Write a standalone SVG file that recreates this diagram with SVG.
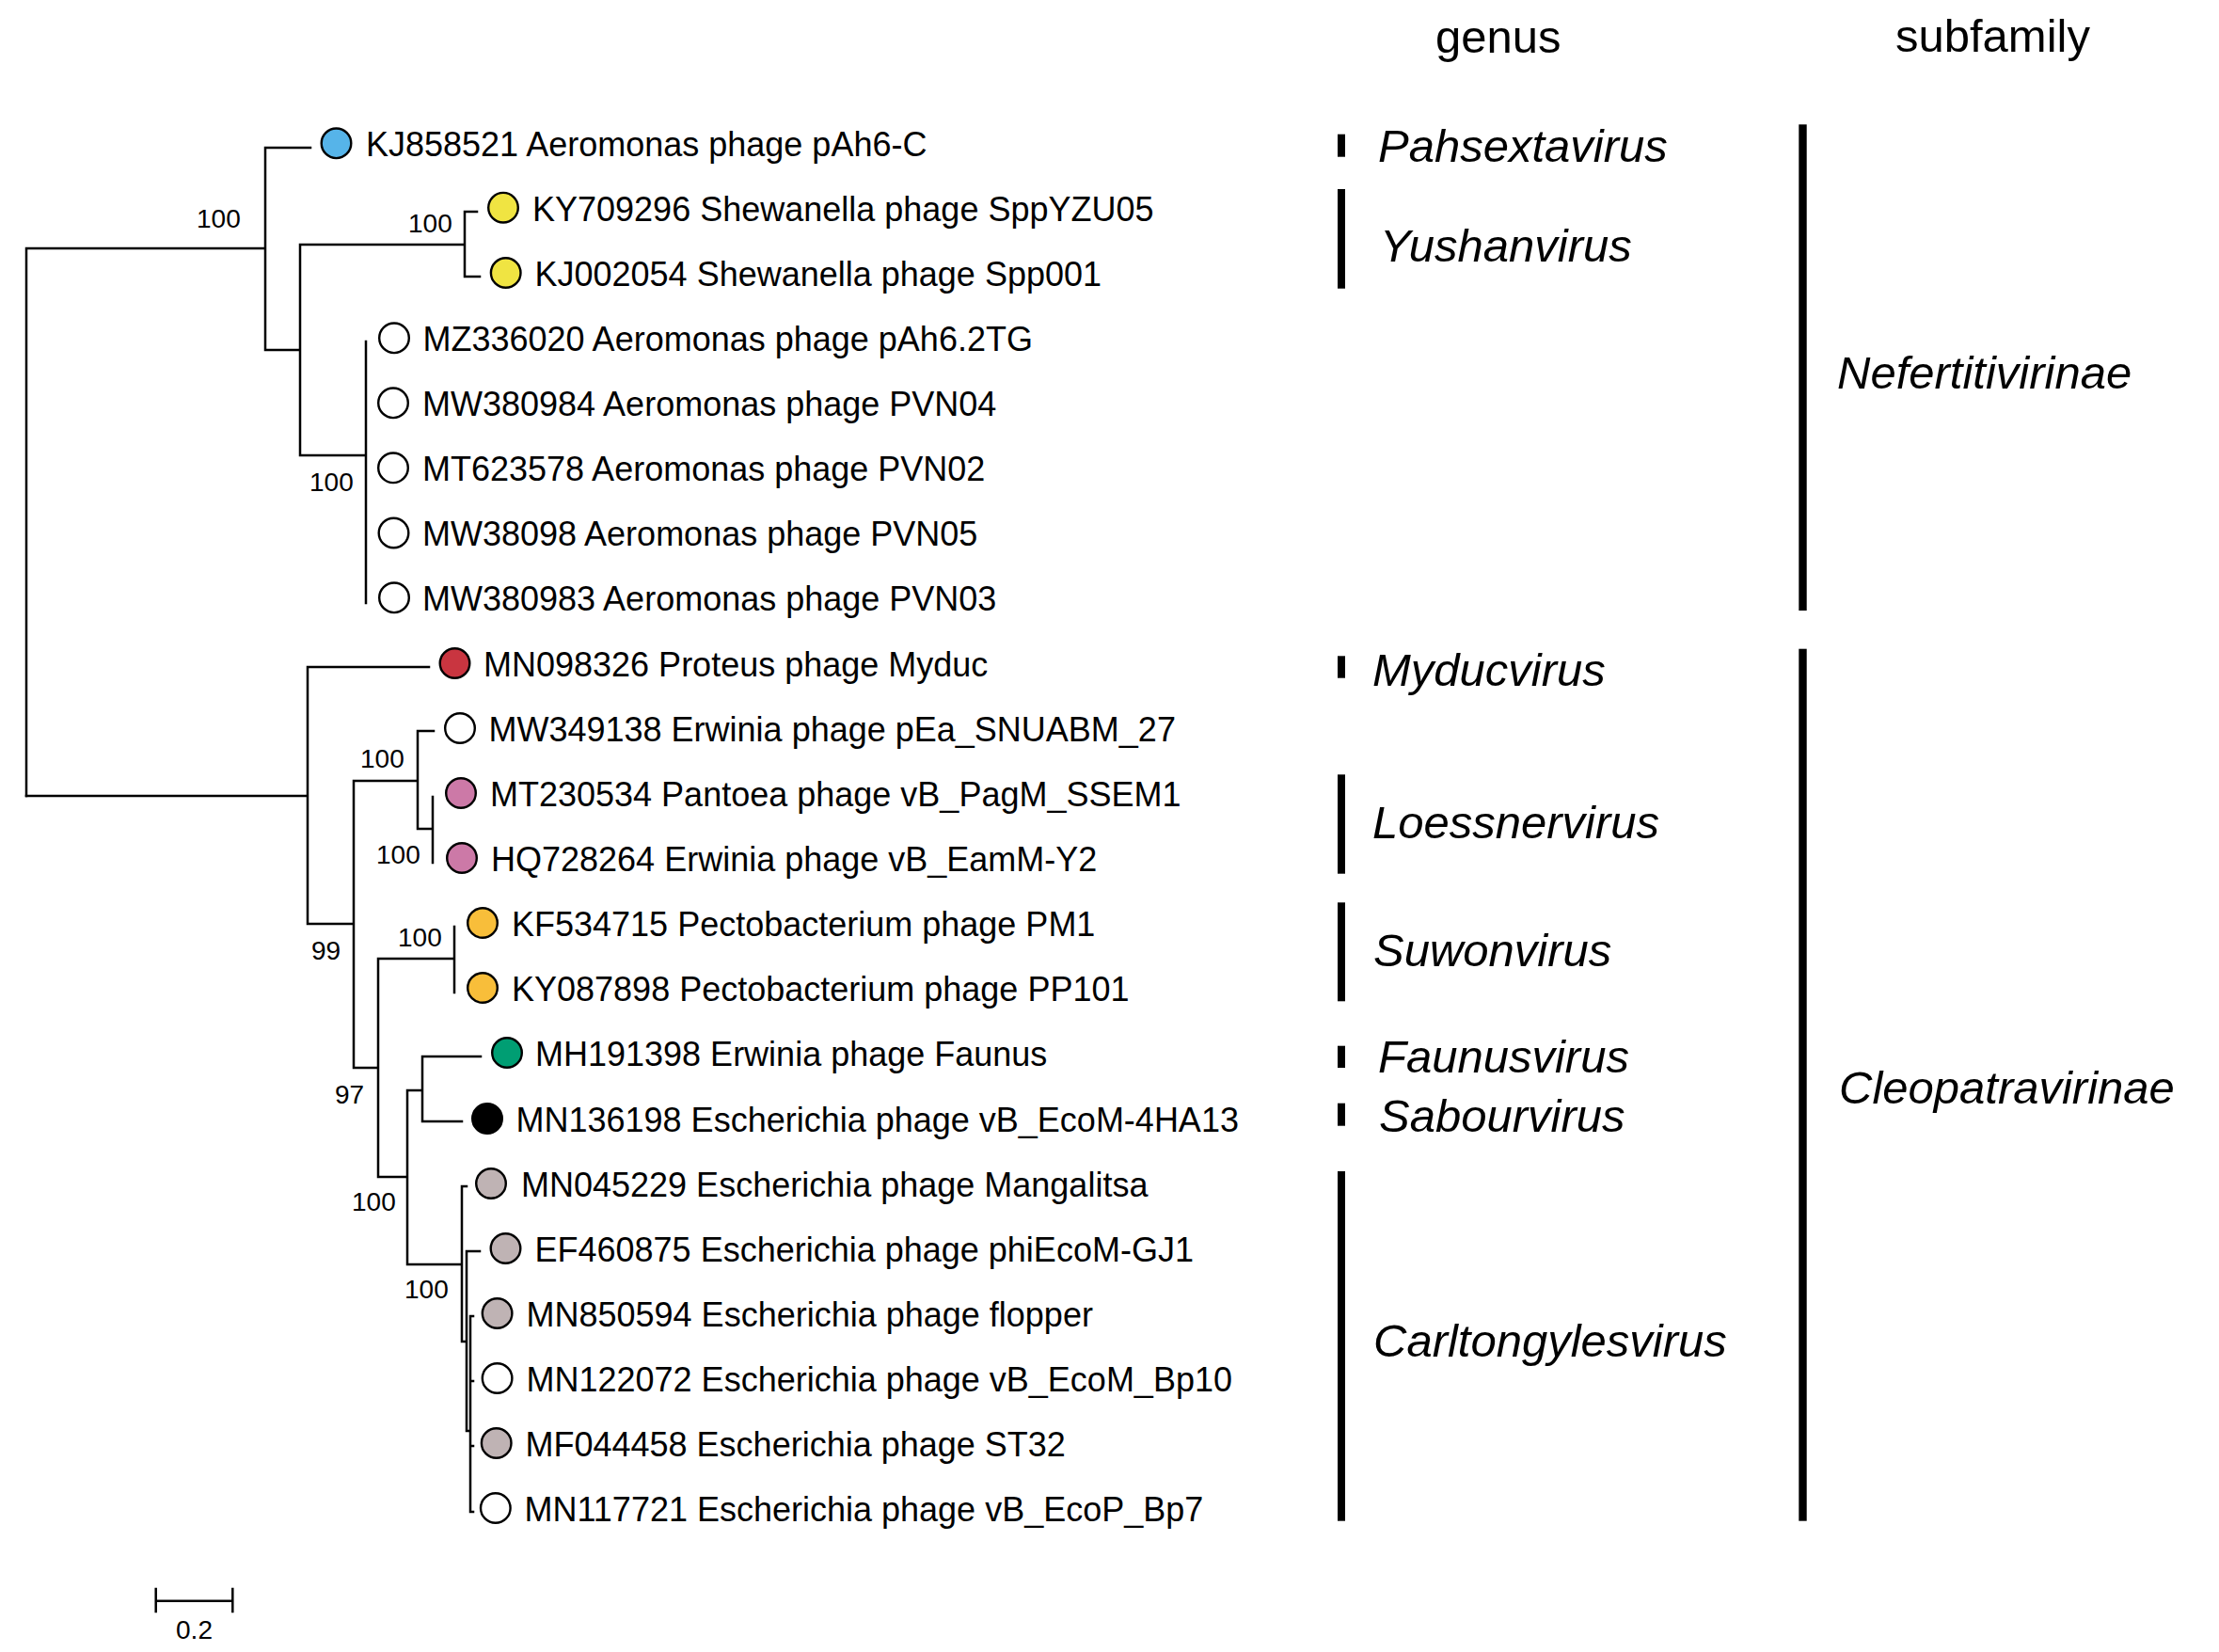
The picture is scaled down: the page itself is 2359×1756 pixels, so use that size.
<svg xmlns="http://www.w3.org/2000/svg" width="2359" height="1756" viewBox="0 0 2359 1756">
<style>
.br{fill:none;stroke:#000;stroke-width:2.5;stroke-linecap:square}
.lf circle{stroke:#000;stroke-width:2.4}
.lf text{font-family:"Liberation Sans",Arial,sans-serif;font-size:36px;fill:#000}
.bs{font-family:"Liberation Sans",Arial,sans-serif;font-size:28px;fill:#000}
.hd{font-family:"Liberation Sans",Arial,sans-serif;font-size:49px;fill:#000}
.tx{font-family:"Liberation Sans",Arial,sans-serif;font-size:49px;font-style:italic;fill:#000}
.bar{fill:#000}
.w{fill:#fff}.bl{fill:#56B4E9}.ye{fill:#F0E442}.rd{fill:#C93540}.pk{fill:#CC79A7}.or{fill:#F8BE3A}.gr{fill:#009E73}.bk{fill:#000}.gy{fill:#BFB3B4}
</style>
<rect width="2359" height="1756" fill="#fff"/>
<g id="connectors">
<path class="br" d="M28,264V846M28,264H282M282,157V372M282,157H330M282,372H319M319,260V484M319,260H494M494,225V294M494,225H507M494,294H510M319,484H389M389,363V641"/>
<path class="br" d="M28,846H327M327,709V982M327,709H456M327,982H376M376,830V1135M376,830H444M444,777V881M444,777H461M444,881H460M460,847V917M376,1135H402M402,1019V1251M402,1019H483M483,985V1055M402,1251H433M433,1159V1344M433,1159H449M449,1123V1192M449,1123H511M449,1192H491M433,1344H491M491,1261V1426M491,1261H496M491,1426H496M496,1330V1521M496,1330H510M496,1521H500M500,1399V1607M500,1399H503M500,1468H503M500,1537H503M500,1607H503"/>
</g>
<g id="bootstrap" class="bs">
<text x="209" y="242">100</text>
<text x="434" y="247">100</text>
<text x="329" y="522">100</text>
<text x="331" y="1020">99</text>
<text x="383" y="816">100</text>
<text x="400" y="918">100</text>
<text x="356" y="1173">97</text>
<text x="423" y="1006">100</text>
<text x="374" y="1287">100</text>
<text x="430" y="1380">100</text>
</g>
<g id="leaf-KJ858521" class="lf"><circle class="bl" cx="357.5" cy="152.3" r="15.8"/><text x="389" y="166">KJ858521 Aeromonas phage pAh6-C</text></g>
<g id="leaf-KY709296" class="lf"><circle class="ye" cx="535" cy="220.7" r="15.8"/><text x="566" y="234.5">KY709296 Shewanella phage SppYZU05</text></g>
<g id="leaf-KJ002054" class="lf"><circle class="ye" cx="537.7" cy="290" r="15.8"/><text x="568.5" y="303.5">KJ002054 Shewanella phage Spp001</text></g>
<g id="leaf-MZ336020" class="lf"><circle class="w" cx="419" cy="359.3" r="15.8"/><text x="449.5" y="373">MZ336020 Aeromonas phage pAh6.2TG</text></g>
<g id="leaf-MW380984" class="lf"><circle class="w" cx="418" cy="428.3" r="15.8"/><text x="449" y="442">MW380984 Aeromonas phage PVN04</text></g>
<g id="leaf-MT623578" class="lf"><circle class="w" cx="418" cy="497.3" r="15.8"/><text x="449" y="511">MT623578 Aeromonas phage PVN02</text></g>
<g id="leaf-MW38098" class="lf"><circle class="w" cx="418.5" cy="566.5" r="15.8"/><text x="449" y="580">MW38098 Aeromonas phage PVN05</text></g>
<g id="leaf-MW380983" class="lf"><circle class="w" cx="419" cy="635.3" r="15.8"/><text x="449" y="649">MW380983 Aeromonas phage PVN03</text></g>
<g id="leaf-MN098326" class="lf"><circle class="rd" cx="483.5" cy="705" r="15.8"/><text x="514" y="718.5">MN098326 Proteus phage Myduc</text></g>
<g id="leaf-MW349138" class="lf"><circle class="w" cx="489" cy="774" r="15.8"/><text x="519.5" y="787.5">MW349138 Erwinia phage pEa_SNUABM_27</text></g>
<g id="leaf-MT230534" class="lf"><circle class="pk" cx="490" cy="843" r="15.8"/><text x="521" y="856.5">MT230534 Pantoea phage vB_PagM_SSEM1</text></g>
<g id="leaf-HQ728264" class="lf"><circle class="pk" cx="491" cy="912" r="15.8"/><text x="522" y="925.5">HQ728264 Erwinia phage vB_EamM-Y2</text></g>
<g id="leaf-KF534715" class="lf"><circle class="or" cx="513" cy="981" r="15.8"/><text x="544" y="994.5">KF534715 Pectobacterium phage PM1</text></g>
<g id="leaf-KY087898" class="lf"><circle class="or" cx="513" cy="1050" r="15.8"/><text x="544" y="1063.5">KY087898 Pectobacterium phage PP101</text></g>
<g id="leaf-MH191398" class="lf"><circle class="gr" cx="539" cy="1119" r="15.8"/><text x="569" y="1132.5">MH191398 Erwinia phage Faunus</text></g>
<g id="leaf-MN136198" class="lf"><circle class="bk" cx="518" cy="1189" r="15.8"/><text x="548.5" y="1202.5">MN136198 Escherichia phage vB_EcoM-4HA13</text></g>
<g id="leaf-MN045229" class="lf"><circle class="gy" cx="522" cy="1258" r="15.8"/><text x="554" y="1271.5">MN045229 Escherichia phage Mangalitsa</text></g>
<g id="leaf-EF460875" class="lf"><circle class="gy" cx="537.5" cy="1327" r="15.8"/><text x="568.5" y="1340.5">EF460875 Escherichia phage phiEcoM-GJ1</text></g>
<g id="leaf-MN850594" class="lf"><circle class="gy" cx="528.6" cy="1396" r="15.8"/><text x="559.5" y="1409.5">MN850594 Escherichia phage flopper</text></g>
<g id="leaf-MN122072" class="lf"><circle class="w" cx="528.6" cy="1465" r="15.8"/><text x="559.5" y="1478.5">MN122072 Escherichia phage vB_EcoM_Bp10</text></g>
<g id="leaf-MF044458" class="lf"><circle class="gy" cx="527.7" cy="1534" r="15.8"/><text x="558.5" y="1547.5">MF044458 Escherichia phage ST32</text></g>
<g id="leaf-MN117721" class="lf"><circle class="w" cx="526.8" cy="1603" r="15.8"/><text x="557.5" y="1616.5">MN117721 Escherichia phage vB_EcoP_Bp7</text></g>
<g id="headers" class="hd">
<text x="1526" y="56">genus</text>
<text x="2015" y="55">subfamily</text>
</g>
<g id="genus-Pahsextavirus"><rect class="bar" x="1422" y="142.7" width="8" height="24"/><text class="tx" x="1465" y="171.7">Pahsextavirus</text></g>
<g id="genus-Yushanvirus"><rect class="bar" x="1422" y="201" width="8" height="105.7"/><text class="tx" x="1467" y="278.3">Yushanvirus</text></g>
<g id="genus-Myducvirus"><rect class="bar" x="1422" y="697.3" width="8" height="23.4"/><text class="tx" x="1459" y="729.3">Myducvirus</text></g>
<g id="genus-Loessnervirus"><rect class="bar" x="1422" y="823.3" width="8" height="105.4"/><text class="tx" x="1459" y="890.7">Loessnervirus</text></g>
<g id="genus-Suwonvirus"><rect class="bar" x="1422" y="959.3" width="8" height="105"/><text class="tx" x="1460" y="1026.7">Suwonvirus</text></g>
<g id="genus-Faunusvirus"><rect class="bar" x="1422" y="1111.7" width="8" height="23.3"/><text class="tx" x="1465" y="1140">Faunusvirus</text></g>
<g id="genus-Sabourvirus"><rect class="bar" x="1422" y="1172.7" width="8" height="24"/><text class="tx" x="1466" y="1202.7">Sabourvirus</text></g>
<g id="genus-Carltongylesvirus"><rect class="bar" x="1422" y="1245" width="8" height="371.7"/><text class="tx" x="1460" y="1441.7">Carltongylesvirus</text></g>
<g id="subfamily-Nefertitivirinae"><rect class="bar" x="1912.3" y="132.3" width="8.4" height="516.7"/><text class="tx" x="1953" y="413.3">Nefertitivirinae</text></g>
<g id="subfamily-Cleopatravirinae"><rect class="bar" x="1912.3" y="689.7" width="8.4" height="927"/><text class="tx" x="1955" y="1173.3">Cleopatravirinae</text></g>
<g id="scalebar">
<path class="br" d="M165.7,1701.7H247.3M165.7,1689V1713M247.3,1689V1713"/>
<text class="bs" x="206.5" y="1741.7" text-anchor="middle">0.2</text>
</g>
</svg>
